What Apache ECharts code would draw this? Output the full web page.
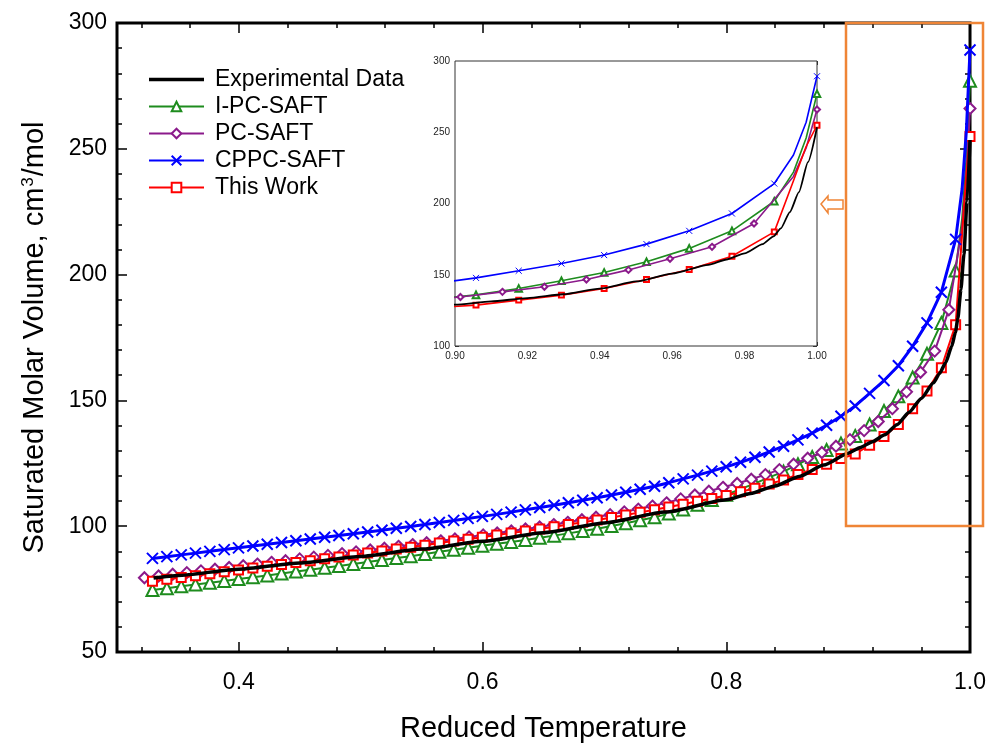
<!DOCTYPE html>
<html>
<head>
<meta charset="utf-8">
<script src="https://cdn.jsdelivr.net/npm/echarts@6/dist/echarts.min.js"></script>
<style>
  html, body { margin: 0; padding: 0; background: #fff; }
  #chart { width: 989px; height: 748px; }
</style>
</head>
<body>
<div id="chart"></div>
<script>
// reduced temperatures of the model points (I-PC-SAFT, CPPC-SAFT, This Work)
const trModel = [
  0.3291, 0.3409, 0.3527, 0.3644, 0.3762, 0.3880, 0.3997, 0.4115, 0.4233, 0.4350,
  0.4468, 0.4586, 0.4704, 0.4821, 0.4939, 0.5057, 0.5174, 0.5292, 0.5410, 0.5527,
  0.5645, 0.5763, 0.5881, 0.5998, 0.6116, 0.6234, 0.6351, 0.6469, 0.6587, 0.6704,
  0.6822, 0.6940, 0.7058, 0.7175, 0.7293, 0.7411, 0.7528, 0.7646, 0.7764, 0.7881,
  0.7999, 0.8117, 0.8235, 0.8352, 0.8470, 0.8588, 0.8705, 0.8823, 0.8941, 0.9058,
  0.9176, 0.9294, 0.9412, 0.9529, 0.9647, 0.9765, 0.9882, 1.0000
];
// PC-SAFT points sit on their own temperature grid
const trPc = [
  0.3225, 0.3341, 0.3457, 0.3573, 0.3689, 0.3804, 0.3920, 0.4036, 0.4152, 0.4268,
  0.4383, 0.4499, 0.4615, 0.4731, 0.4847, 0.4962, 0.5078, 0.5194, 0.5310, 0.5426,
  0.5541, 0.5657, 0.5773, 0.5889, 0.6005, 0.6120, 0.6236, 0.6352, 0.6468, 0.6584,
  0.6699, 0.6815, 0.6931, 0.7047, 0.7163, 0.7278, 0.7394, 0.7510, 0.7626, 0.7742,
  0.7857, 0.7973, 0.8089, 0.8205, 0.8321, 0.8436, 0.8552, 0.8668, 0.8784, 0.8900,
  0.9015, 0.9131, 0.9247, 0.9363, 0.9479, 0.9594, 0.9710, 0.9826, 1.0000
];

const trExp = [0.33, 0.35, 0.40, 0.45, 0.50, 0.55, 0.60, 0.65, 0.70, 0.75, 0.80, 0.82, 0.84, 0.86, 0.88,
  0.90, 0.91, 0.92, 0.93, 0.94, 0.95, 0.96, 0.97, 0.975, 0.98, 0.985, 0.988, 0.99, 0.9925, 0.995, 0.9975, 1.0];
const vExp = [79.4, 80.4, 82.9, 85.4, 88.0, 90.9, 94.0, 97.4, 101.3, 105.6, 110.5, 113.0, 116.0, 119.8, 124.3,
  129.0, 131.3, 133.6, 136.3, 140.3, 145.3, 150.8, 157.0, 160.7, 165.0, 171.5, 177.0, 182.5, 194.0, 208.0, 229.0, 253.5];

const vIPc = [
  74.6, 75.35, 76.1, 76.8, 77.5, 78.25, 79.0, 79.75, 80.45, 81.2,
  81.95, 82.7, 83.45, 84.2, 85.0, 85.8, 86.55, 87.35, 88.1, 88.95,
  89.8, 90.65, 91.4, 92.2, 93.0, 93.75, 94.55, 95.4, 96.25, 97.15,
  98.1, 99.0, 100.05, 101.2, 102.35, 103.55, 105.0, 106.65, 108.5, 110.45,
  112.5, 114.75, 117.0, 119.4, 121.7, 124.6, 127.5, 130.3, 132.9, 135.9,
  140.4, 145.8, 151.6, 159.1, 168.5, 180.8, 201.6, 277.0
];
const vPc = [
  79.5, 80.2, 80.9, 81.55, 82.25, 82.9, 83.6, 84.3, 84.95, 85.65,
  86.3, 87.0, 87.7, 88.4, 89.1, 89.8, 90.55, 91.25, 92.0, 92.7,
  93.45, 94.2, 94.95, 95.75, 96.55, 97.3, 98.1, 98.9, 99.7, 100.65,
  101.55, 102.55, 103.55, 104.6, 105.7, 106.8, 108.0, 109.3, 110.85, 112.4,
  113.9, 115.45, 117.0, 118.65, 120.5, 122.5, 124.65, 127.0, 129.3, 131.8,
  134.4, 138.0, 141.6, 146.7, 153.4, 161.2, 169.6, 186.0, 266.0
];
const vCppc = [
  87.2, 87.9, 88.6, 89.3, 90.0, 90.7, 91.4, 92.1, 92.8, 93.5,
  94.2, 94.9, 95.6, 96.3, 97.0, 97.7, 98.4, 99.2, 99.9, 100.7,
  101.5, 102.3, 103.1, 103.9, 104.7, 105.6, 106.5, 107.4, 108.3, 109.3,
  110.3, 111.3, 112.4, 113.5, 114.7, 115.9, 117.3, 118.8, 120.3, 121.9,
  123.6, 125.4, 127.4, 129.5, 131.8, 134.3, 137.0, 140.1, 143.7, 147.8,
  152.8, 157.9, 163.8, 171.5, 180.8, 193.0, 214.0, 289.3
];
const vThis = [
  78.15, 78.9, 79.65, 80.35, 81.1, 81.85, 82.6, 83.35, 84.05, 84.8,
  85.55, 86.3, 87.05, 87.8, 88.6, 89.35, 90.1, 90.9, 91.65, 92.45,
  93.3, 94.1, 94.85, 95.65, 96.5, 97.25, 98.05, 98.9, 99.75, 100.65,
  101.6, 102.5, 103.45, 104.45, 105.5, 106.55, 107.6, 108.75, 109.9, 111.05,
  112.2, 113.65, 115.1, 116.8, 118.4, 120.55, 122.55, 124.65, 126.9, 128.7,
  132.2, 135.7, 140.4, 146.7, 153.7, 163.0, 180.1, 254.9
];

// extra curve points (no marker) read off the inset near the critical point
const trKnee = [0.9935, 0.997];
const kneeIPc = [222, 246];
const kneePc = [219, 239];
const kneeCppc = [234, 257];
const kneeThis = [216, 240];

const xMajor = [0.4, 0.6, 0.8, 1.0];
const xMinor = [0.32, 0.36, 0.44, 0.48, 0.52, 0.56, 0.64, 0.68, 0.72, 0.76, 0.84, 0.88, 0.92, 0.96];

const FONT = 'Liberation Sans, Arial, sans-serif';
const CROSS = 'path://M0,0L10,10M10,0L0,10';

const zip = (xs, ys) => xs.map((x, i) => [x, ys[i]]);

// marker points plus the unmarked knee points, in temperature order
function withKnee(xs, ys, kneeY) {
  const pts = zip(xs, ys).map(p => ({ value: p }));
  trKnee.forEach((x, i) => pts.push({ value: [x, kneeY[i]], symbol: 'none' }));
  return pts.sort((a, b) => a.value[0] - b.value[0]);
}

const myChart = echarts.init(document.getElementById('chart'), null, { renderer: 'canvas' });

// one set of series per grid: main plot or inset
function makeSeries(inset) {
  const xi = inset ? 4 : 0;
  const yi = inset ? 2 : 0;
  const k = inset ? 0.55 : 1;
  const z0 = inset ? 30 : 2;
  return [
    {
      name: 'I-PC-SAFT', type: 'line', xAxisIndex: xi, yAxisIndex: yi,
      data: withKnee(trModel, vIPc, kneeIPc),
      symbol: 'emptyTriangle', symbolSize: 12 * k,
      lineStyle: { color: '#1e8c1e', width: inset ? 1.6 : 2 },
      itemStyle: { color: '#1e8c1e', borderWidth: inset ? 1 : 1.6 },
      z: z0
    },
    {
      name: 'PC-SAFT', type: 'line', xAxisIndex: xi, yAxisIndex: yi,
      data: withKnee(trPc, vPc, kneePc),
      symbol: 'emptyDiamond', symbolSize: 11 * k,
      lineStyle: { color: '#8b1a8b', width: inset ? 1.6 : 2 },
      itemStyle: { color: '#8b1a8b', borderWidth: inset ? 1 : 1.5 },
      z: z0 + 1
    },
    {
      name: 'This Work', type: 'line', xAxisIndex: xi, yAxisIndex: yi,
      data: withKnee(trModel, vThis, kneeThis),
      symbol: 'emptyRect', symbolSize: 9 * k,
      lineStyle: { color: '#ff0000', width: inset ? 1.6 : 2 },
      itemStyle: { color: '#ff0000', borderWidth: inset ? 1 : 1.6 },
      z: z0 + 2
    },
    {
      name: 'CPPC-SAFT', type: 'line', xAxisIndex: xi, yAxisIndex: yi,
      data: withKnee(trModel, vCppc, kneeCppc),
      symbol: CROSS, symbolSize: 11 * k,
      lineStyle: { color: '#0000ff', width: inset ? 1.6 : 3 },
      itemStyle: { color: '#0000ff', borderColor: '#0000ff', borderWidth: inset ? 1 : 2 },
      z: z0 + 3
    },
    {
      name: 'Experimental Data', type: 'line', xAxisIndex: xi, yAxisIndex: yi,
      data: zip(trExp, vExp), smooth: 0.2, smoothMonotone: 'x',
      symbol: 'none',
      lineStyle: { color: '#000', width: inset ? 1.8 : 3.5 },
      itemStyle: { color: '#000' },
      z: z0 + 4
    }
  ];
}

const tickStyle = { color: '#000', width: 1.5 };
const insetTick = { color: '#333', width: 1 };

const option = {
  backgroundColor: '#fff',
  animation: false,
  textStyle: { fontFamily: FONT },
  grid: [
    { left: 117, right: 16, top: 23, bottom: 92, show: true, borderColor: '#000', borderWidth: 3 },
    { left: 455, right: 172, top: 61, bottom: 402, show: true, borderColor: '#333', borderWidth: 1, backgroundColor: '#fff', z: 10 }
  ],
  legend: {
    data: [
      { name: 'Experimental Data', icon: 'path://M0,0H55V3.5H0Z' },
      'I-PC-SAFT', 'PC-SAFT', 'CPPC-SAFT', 'This Work'
    ],
    orient: 'vertical', left: 143, top: 63,
    itemWidth: 55, itemHeight: 12, itemGap: 4,
    textStyle: { fontSize: 23, lineHeight: 22, color: '#000', fontFamily: FONT, padding: [0, 0, 0, 6] }
  },
  xAxis: [
    { // main bottom, labels + major ticks
      gridIndex: 0, type: 'value', min: 0.3, max: 1.0, position: 'bottom',
      axisLine: { show: false }, splitLine: { show: false },
      axisTick: { show: true, inside: true, length: 10, customValues: xMajor, lineStyle: tickStyle },
      axisLabel: { customValues: xMajor, formatter: v => v.toFixed(1), fontSize: 23, margin: 19, color: '#000', fontFamily: FONT },
      name: 'Reduced Temperature', nameLocation: 'middle', nameGap: 62,
      nameTextStyle: { fontSize: 29, color: '#000', fontFamily: FONT }
    },
    { // main bottom minor ticks
      gridIndex: 0, type: 'value', min: 0.3, max: 1.0, position: 'bottom',
      axisLine: { show: false }, splitLine: { show: false }, axisLabel: { show: false },
      axisTick: { show: true, inside: true, length: 5, customValues: xMinor, lineStyle: tickStyle }
    },
    { // main top, major
      gridIndex: 0, type: 'value', min: 0.3, max: 1.0, position: 'top',
      axisLine: { show: false }, splitLine: { show: false }, axisLabel: { show: false },
      axisTick: { show: true, inside: true, length: 10, customValues: xMajor, lineStyle: tickStyle }
    },
    { // main top, minor
      gridIndex: 0, type: 'value', min: 0.3, max: 1.0, position: 'top',
      axisLine: { show: false }, splitLine: { show: false }, axisLabel: { show: false },
      axisTick: { show: true, inside: true, length: 5, customValues: xMinor, lineStyle: tickStyle }
    },
    { // inset bottom
      gridIndex: 1, type: 'value', min: 0.9, max: 1.0, interval: 0.02, position: 'bottom',
      axisLine: { show: false }, splitLine: { show: false },
      axisTick: { show: true, inside: true, length: 4, lineStyle: insetTick },
      minorTick: { show: true, splitNumber: 4, length: 2, lineStyle: insetTick },
      axisLabel: { formatter: v => v.toFixed(2), fontSize: 10, margin: 5, color: '#222', fontFamily: FONT }
    },
    { // inset top
      gridIndex: 1, type: 'value', min: 0.9, max: 1.0, interval: 0.02, position: 'top',
      axisLine: { show: false }, splitLine: { show: false }, axisLabel: { show: false },
      axisTick: { show: true, inside: true, length: 4, lineStyle: insetTick },
      minorTick: { show: true, splitNumber: 4, length: 2, lineStyle: insetTick }
    }
  ],
  yAxis: [
    {
      gridIndex: 0, type: 'value', min: 50, max: 300, interval: 50, position: 'left',
      axisLine: { show: false }, splitLine: { show: false },
      axisTick: { show: true, inside: true, length: 10, lineStyle: tickStyle },
      minorTick: { show: true, splitNumber: 5, length: 5, lineStyle: tickStyle },
      axisLabel: { fontSize: 23, margin: 10, color: '#000', fontFamily: FONT },
      name: '{t|Saturated Molar Volume, cm}{s|3}{t|/mol}',
      nameLocation: 'middle', nameGap: 68,
      nameTextStyle: {
        color: '#000', fontFamily: FONT,
        rich: {
          t: { fontSize: 29, color: '#000', fontFamily: FONT },
          s: { fontSize: 17, color: '#000', fontFamily: FONT, verticalAlign: 'top', padding: [0, 1, 11, 1] }
        }
      }
    },
    {
      gridIndex: 0, type: 'value', min: 50, max: 300, interval: 50, position: 'right',
      axisLine: { show: false }, splitLine: { show: false }, axisLabel: { show: false },
      axisTick: { show: true, inside: true, length: 10, lineStyle: tickStyle },
      minorTick: { show: true, splitNumber: 5, length: 5, lineStyle: tickStyle }
    },
    {
      gridIndex: 1, type: 'value', min: 100, max: 300, interval: 50, position: 'left',
      axisLine: { show: false }, splitLine: { show: false },
      axisTick: { show: true, inside: true, length: 4, lineStyle: insetTick },
      minorTick: { show: true, splitNumber: 5, length: 2, lineStyle: insetTick },
      axisLabel: { fontSize: 10, margin: 5, color: '#222', fontFamily: FONT }
    },
    {
      gridIndex: 1, type: 'value', min: 100, max: 300, interval: 50, position: 'right',
      axisLine: { show: false }, splitLine: { show: false }, axisLabel: { show: false },
      axisTick: { show: true, inside: true, length: 4, lineStyle: insetTick },
      minorTick: { show: true, splitNumber: 5, length: 2, lineStyle: insetTick }
    }
  ],
  series: makeSeries(false).concat(makeSeries(true)),
  graphic: [
    { // highlight box over the near-critical region
      type: 'rect', z: 100,
      shape: { x: 846, y: 23, width: 137, height: 503 },
      style: { fill: 'none', stroke: '#ef8536', lineWidth: 2.5 }
    },
    { // hollow arrow pointing at the inset
      type: 'polygon', z: 100,
      shape: { points: [[821, 204], [828, 196], [828, 200], [843, 200], [843, 209], [828, 209], [828, 213]] },
      style: { fill: '#fff', stroke: '#ef8536', lineWidth: 1.5 }
    }
  ]
};

myChart.setOption(option);
</script>
</body>
</html>
